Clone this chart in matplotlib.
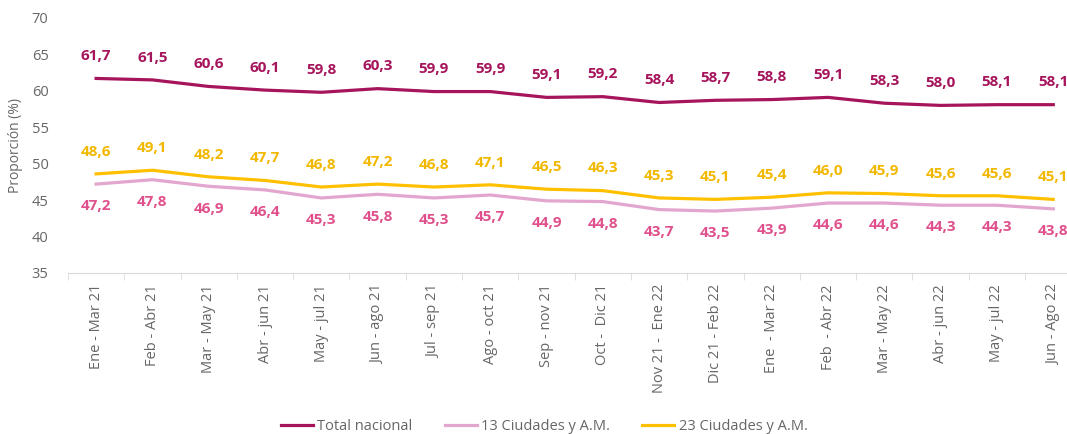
import matplotlib
matplotlib.use("Agg")
import matplotlib.pyplot as plt
from matplotlib.ticker import FixedLocator, NullFormatter

periodos = [
	"Ene - Mar 21", "Feb - Abr 21", "Mar - May 21", "Abr - jun 21",
	"May - jul 21", "Jun - ago 21", "Jul - sep 21", "Ago - oct 21",
	"Sep - nov 21", "Oct -  Dic 21", "Nov 21 -  Ene 22", "Dic 21 - Feb 22",
	"Ene  - Mar 22", "Feb  - Abr 22", "Mar - May 22", "Abr - jun 22",
	"May - jul 22", "Jun - Ago 22",
]
total_nacional = [61.7, 61.5, 60.6, 60.1, 59.8, 60.3, 59.9, 59.9, 59.1,
	59.2, 58.4, 58.7, 58.8, 59.1, 58.3, 58.0, 58.1, 58.1]
ciudades_13 = [47.2, 47.8, 46.9, 46.4, 45.3, 45.8, 45.3, 45.7, 44.9,
	44.8, 43.7, 43.5, 43.9, 44.6, 44.6, 44.3, 44.3, 43.8]
ciudades_23 = [48.6, 49.1, 48.2, 47.7, 46.8, 47.2, 46.8, 47.1, 46.5,
	46.3, 45.3, 45.1, 45.4, 46.0, 45.9, 45.6, 45.6, 45.1]

plt.rcParams["font.family"] = ["Open Sans", "DejaVu Sans"]

C_TOTAL = "#A6145C"
C_13 = "#E2A6CF"
C_13_TXT = "#E0508C"
C_23 = "#FFC000"
C_23_TXT = "#F2B800"
GRIS = "#666666"

fig = plt.figure(figsize=(10.67, 4.34), dpi=100)
ax = fig.add_axes([0.0637, 0.371, 0.9498, 0.5876])

x = list(range(len(periodos)))
ax.plot(x, total_nacional, color=C_TOTAL, lw=2.3, label="Total nacional")
ax.plot(x, ciudades_13, color=C_13, lw=2.3, label="13 Ciudades y A.M.")
ax.plot(x, ciudades_23, color=C_23, lw=2.3, label="23 Ciudades y A.M.")

def fmt(v):
	return ("%.1f" % v).replace(".", ",")

for i in x:
	ax.annotate(fmt(total_nacional[i]), (i, total_nacional[i]), xytext=(0, 16),
		textcoords="offset points", ha="center", va="center",
		color=C_TOTAL, fontsize=11, fontweight="bold")
	ax.annotate(fmt(ciudades_23[i]), (i, ciudades_23[i]), xytext=(0, 16),
		textcoords="offset points", ha="center", va="center",
		color=C_23_TXT, fontsize=11, fontweight="bold")
	ax.annotate(fmt(ciudades_13[i]), (i, ciudades_13[i]), xytext=(0, -16),
		textcoords="offset points", ha="center", va="center",
		color=C_13_TXT, fontsize=11, fontweight="bold")

ax.set_xlim(-0.5, len(periodos) - 0.5)
ax.set_ylim(35, 70)
ax.set_yticks(range(35, 71, 5))
ax.set_xticks(x)
ax.set_xticklabels(periodos, rotation=90, fontsize=10.5, color=GRIS)
ax.xaxis.set_minor_locator(FixedLocator([i - 0.5 for i in range(len(periodos) + 1)]))
ax.xaxis.set_minor_formatter(NullFormatter())
ax.tick_params(axis="x", which="major", length=0, pad=8)
ax.tick_params(axis="x", which="minor", length=5, color="#D9D9D9")
ax.tick_params(axis="y", length=0, labelsize=10.5, labelcolor=GRIS, pad=14)

for s in ["top", "right", "left"]:
	ax.spines[s].set_visible(False)
ax.spines["bottom"].set_color("#D9D9D9")

ax.set_ylabel("Proporción (%)", fontsize=10, color=GRIS, labelpad=6)

fig.legend(loc="lower center", bbox_to_anchor=(0.51, -0.03), ncol=3, frameon=False,
	fontsize=10.5, handlelength=2.2, columnspacing=2.2, handletextpad=0.3,
	labelcolor=GRIS)

fig.savefig("out.png", dpi=100)
